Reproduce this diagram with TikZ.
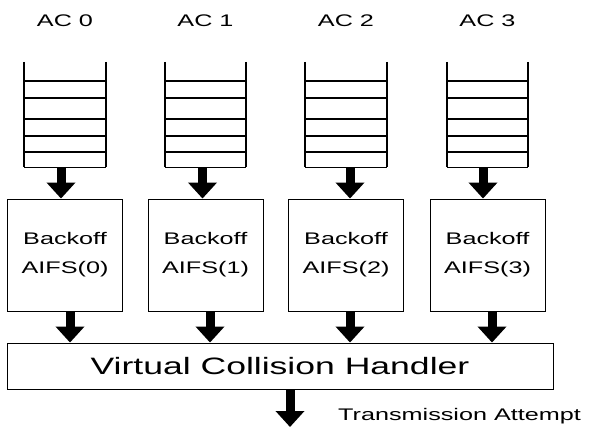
\documentclass[tikz,border=0pt]{standalone}
\usepackage{fontspec}
\setmainfont{Liberation Sans}
\newfontfamily\widefont[FakeStretch=1.5]{Liberation Sans}
\usetikzlibrary{arrows.meta}

\tikzset{
    fatarrow/.style={line width=9pt, -{Triangle[width=28pt, length=16pt]}},
    queueside/.style={line width=2.2pt},
    queueslot/.style={line width=1.3pt},
    queuebox/.style={minimum width=81pt, minimum height=105pt, inner sep=0pt},
    backoffbox/.style={draw, line width=0.9pt, minimum width=115pt, minimum height=112pt,
        inner sep=0pt, align=center, font=\widefont\fontsize{16.8}{29}\selectfont},
    labeltext/.style={font=\widefont\fontsize{16.8}{20}\selectfont, inner sep=0pt},
}

\begin{document}
\begin{tikzpicture}[x=1pt, y=-1pt]
    \useasboundingbox (0,0) rectangle (593,428);

    % handler
    \node[draw, line width=0.9pt, minimum width=546pt, minimum height=46pt, inner sep=0pt,
        font=\widefont\fontsize{23.7}{28}\selectfont] (h) at (280,366) {Virtual Collision Handler};

    % queues, backoff boxes
    \foreach \i/\cx/\qa/\ba in {0/65/-4/5, 1/205.5/-3/4.5, 2/346/4/4, 3/487.5/-4.5/4.5}
        {
            \node[labeltext, anchor=base] (ac\i) at (\cx,27) {AC \i};

            \node[queuebox] (q\i) at (\cx,114.5) {};
            \draw[queueside] (q\i.north west) -- (q\i.south west);
            \draw[queueside] (q\i.north east) -- (q\i.south east);
            \draw[queueslot] (q\i.south west) -- (q\i.south east);
            \foreach \y in {81, 98, 119, 136, 152}
                \draw[queueslot] (q\i.west |- 0,\y) -- (q\i.east |- 0,\y);

            \node[backoffbox] (b\i) at (\cx,255) {Backoff\\AIFS(\i)};

            \draw[fatarrow] ([xshift=\qa pt]q\i.south) -- ([xshift=\qa pt]q\i.south |- b\i.north);
            \draw[fatarrow] ([xshift=\ba pt]b\i.south) -- ([xshift=\ba pt]b\i.south |- h.north);
        }

    % output
    \coordinate (out) at (290,427);
    \draw[fatarrow] (h.south -| out) -- (out);
    \node[labeltext, anchor=base west] (tx) at (338,420) {Transmission Attempt};

\end{tikzpicture}
\end{document}
